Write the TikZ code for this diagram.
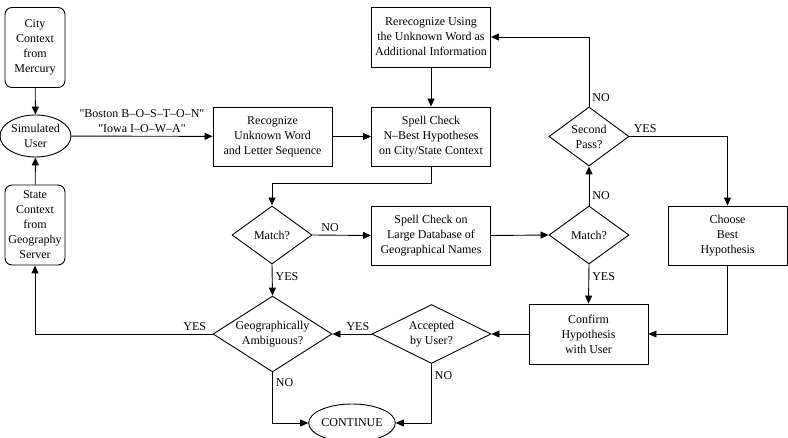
\documentclass[tikz,border=0pt]{standalone}
\usepackage{fontspec}
\setmainfont{Liberation Serif}
\usepackage{tikz}
\usetikzlibrary{calc,shapes.geometric,arrows.meta}

\begin{document}
\begin{tikzpicture}[x=1pt, y=-1pt, line width=.9pt,
    font=\fontsize{12}{15}\selectfont,
    proc/.style={draw, rectangle, align=center, inner sep=0pt, minimum width=119pt, minimum height=59pt},
    ctx/.style={draw, rectangle, rounded corners=7pt, align=center, inner sep=0pt, minimum width=60pt, minimum height=80pt},
    test/.style={draw, diamond, align=center, inner sep=-6pt, minimum width=119pt, minimum height=59pt},
    oval/.style={draw, ellipse, align=center, inner sep=0pt},
    arr/.style={-{Triangle[length=8pt,width=7pt]}},
    lbl/.style={inner sep=3pt}]
    \useasboundingbox (0,0) rectangle (788,438);
    \node (city) at (35,47.5) [ctx] {City\\Context\\from\\Mercury};
    \node (state) at (35,225) [ctx] {State\\Context\\from\\Geography\\Server};
    \node (simuser) at (35.5,136) [oval, minimum width=71pt, minimum height=42pt] {Simulated\\User};
    \node (recog) at (272.5,136.5) [proc] {Recognize\\Unknown Word\\and Letter Sequence};
    \node (nbest) at (431,136.5) [proc] {Spell Check\\N--Best Hypotheses\\on City/State Context};
    \node (rerecog) at (431,37) [proc, minimum height=60pt] {Rerecognize Using\\the Unknown Word as\\Additional Information};
    \node (matchA) at (272,235) [test, minimum width=80pt, minimum height=58pt] {Match?};
    \node (large) at (431,235.5) [proc] {Spell Check on\\Large Database of\\Geographical Names};
    \node (matchB) at (589,235) [test, minimum width=80pt, minimum height=58pt] {Match?};
    \node (second) at (589,136.5) [test, minimum width=80pt, minimum height=59pt] {Second\\Pass?};
    \node (choose) at (727.5,235.5) [proc] {Choose\\Best\\Hypothesis};
    \node (confirm) at (588.5,334) [proc, minimum height=60pt] {Confirm\\Hypothesis\\with User};
    \node (accepted) at (431.5,334) [test] {Accepted\\by User?};
    \node (geo) at (272.5,334) [test] {Geographically\\Ambiguous?};
    \node (cont) at (352,423) [oval, minimum width=80pt, minimum height=38pt] {CONTINUE};
    \draw[arr] (city) -- (simuser);
    \draw[arr] (state) -- (simuser);
    \draw[arr] (simuser) -- node[above, align=center, lbl] {\textquotedbl Boston B--O--S--T--O--N\textquotedbl\\\textquotedbl Iowa I--O--W--A\textquotedbl} (recog);
    \draw[arr] (recog) -- (nbest);
    \draw[arr] (rerecog) -- (nbest);
    \draw[arr] (nbest.south) -- ++(0,17) -| (matchA.north);
    \draw[arr] (matchA.east) -- node[pos=.3, above, lbl] {NO} (large.west);
    \draw[arr] (large.east) -- (matchB.west);
    \draw[arr] (matchB.north) -- node[pos=.25, right, lbl] {NO} (second.south);
    \draw[arr] (second.north) |- node[pos=.065, right, lbl] {NO} (rerecog.east);
    \draw[arr] (second.east) -| node[pos=.08, above, lbl] {YES} (choose.north);
    \draw[arr] (matchB.south) -- node[pos=.3, right, lbl] {YES} (confirm.north);
    \draw[arr] (choose.south) |- (confirm.east);
    \draw[arr] (confirm.west) -- (accepted.east);
    \draw[arr] (accepted.west) -- node[pos=.35, above, lbl] {YES} (geo.east);
    \draw[arr] (matchA.south) -- node[pos=.4, right, lbl] {YES} (geo.north);
    \draw[arr] (geo.west) -| node[pos=.05, above, lbl] {YES} (state.south);
    \draw[arr] (geo.south) |- node[pos=.1, right, lbl] {NO} (cont.west);
    \draw[arr] (accepted.south) |- node[pos=.1, right, lbl] {NO} (cont.east);
\end{tikzpicture}
\end{document}
